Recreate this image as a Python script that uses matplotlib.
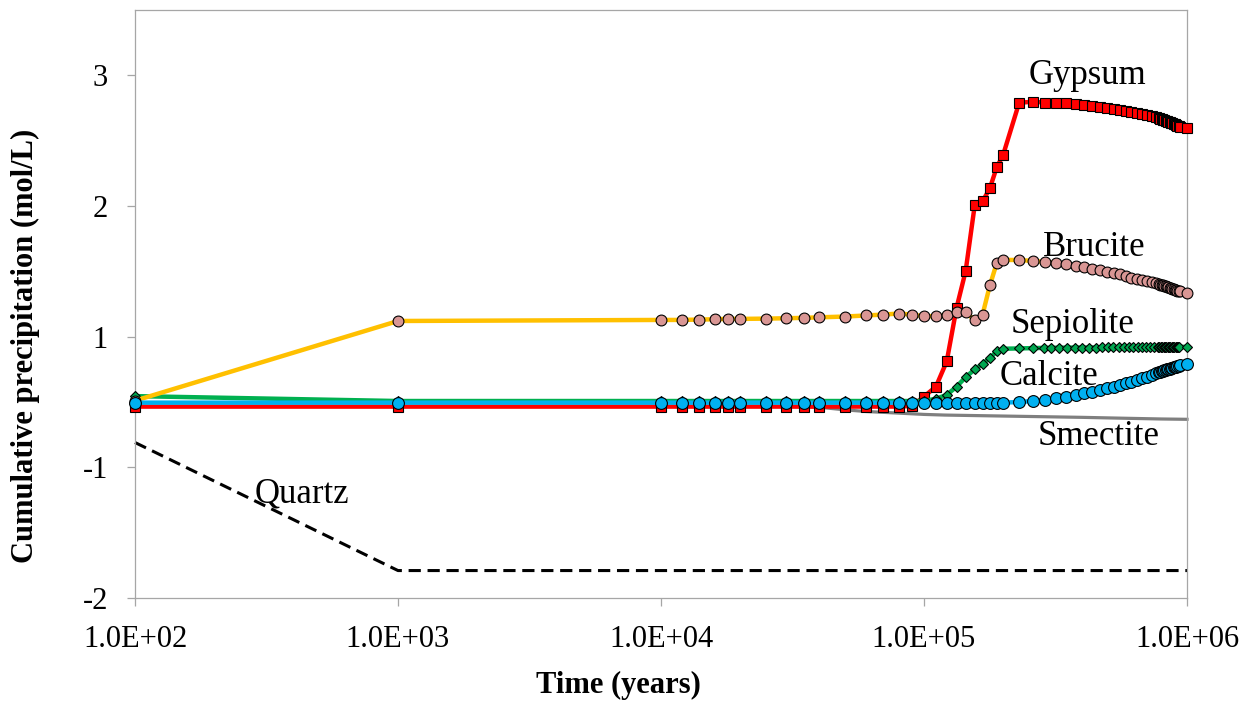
import numpy as np
import matplotlib
matplotlib.use("Agg")
from matplotlib import pyplot as plt
from matplotlib.ticker import FixedLocator, FuncFormatter, NullLocator

plt.rcParams['font.family'] = ['Liberation Serif', 'DejaVu Serif']

# time steps (years) shared by gypsum, brucite and calcite
t_main = [1e2, 1e3,
          1.0e4, 1.2e4, 1.4e4, 1.6e4, 1.8e4, 2.0e4, 2.5e4, 3.0e4, 3.5e4, 4.0e4,
          5.0e4, 6.0e4, 7.0e4, 8.0e4, 9.0e4,
          1.00e5, 1.11e5, 1.22e5, 1.33e5, 1.44e5, 1.56e5, 1.67e5, 1.78e5, 1.89e5,
          2.00e5, 2.30e5, 2.59e5, 2.89e5, 3.19e5, 3.48e5, 3.78e5, 4.07e5, 4.37e5,
          4.67e5, 4.96e5, 5.26e5, 5.56e5, 5.85e5, 6.15e5, 6.44e5, 6.74e5, 7.04e5,
          7.33e5, 7.63e5,
          7.8e5, 7.9e5, 8.0e5, 8.1e5, 8.2e5, 8.3e5, 8.4e5, 8.5e5, 8.6e5, 8.7e5,
          8.8e5, 8.9e5, 9.0e5, 9.1e5, 9.2e5, 9.3e5, 9.4e5,
          1.0e6]

gypsum = [-0.07, -0.07,
          -0.07, -0.07, -0.07, -0.07, -0.07, -0.07, -0.07, -0.07, -0.07, -0.07,
          -0.07, -0.07, -0.07, -0.07, -0.06,
          0.082, 0.235, 0.62, 1.221, 1.502, 2.01, 2.036, 2.136, 2.295,
          2.392, 2.79, 2.798, 2.792, 2.79, 2.785, 2.779, 2.772, 2.764,
          2.756, 2.748, 2.744, 2.733, 2.728, 2.721, 2.713, 2.705, 2.695,
          2.687, 2.679,
          2.672, 2.668, 2.664, 2.660, 2.656, 2.652, 2.648, 2.644, 2.640, 2.636,
          2.632, 2.628, 2.624, 2.620, 2.616, 2.612, 2.608,
          2.598]

brucite = [0.02, 1.12,
           1.128, 1.128, 1.131, 1.133, 1.136, 1.136, 1.138, 1.141, 1.144, 1.148,
           1.154, 1.162, 1.169, 1.177, 1.169,
           1.156, 1.156, 1.162, 1.187, 1.187, 1.125, 1.169, 1.392, 1.562,
           1.587, 1.587, 1.579, 1.572, 1.562, 1.554, 1.541, 1.531, 1.515,
           1.508, 1.498, 1.490, 1.477, 1.464, 1.452, 1.444, 1.433, 1.425,
           1.418, 1.408,
           1.404, 1.399, 1.395, 1.392, 1.388, 1.385, 1.381, 1.378, 1.374, 1.371,
           1.367, 1.364, 1.360, 1.357, 1.353, 1.350, 1.347,
           1.336]

calcite = [-0.01, -0.01,
           -0.01, -0.01, -0.01, -0.01, -0.01, -0.01, -0.01, -0.01, -0.01, -0.01,
           -0.01, -0.01, -0.01, -0.01, -0.01,
           -0.01, -0.01, -0.01, -0.01, -0.01, -0.01, -0.01, -0.01, -0.01,
           -0.01, 0.0, 0.015, 0.031, 0.057, 0.082, 0.108, 0.134, 0.158,
           0.185, 0.211, 0.235, 0.262, 0.288, 0.312, 0.338, 0.365, 0.389,
           0.415, 0.44,
           0.454, 0.462, 0.469, 0.477, 0.485, 0.492, 0.498, 0.505, 0.511, 0.517,
           0.523, 0.529, 0.535, 0.542, 0.548, 0.554, 0.56,
           0.58]

# sepiolite has its own output times
t_sep = [1e2, 1e3,
         1.0e4, 1.2e4, 1.4e4, 1.6e4, 1.8e4, 2.0e4, 2.5e4, 3.0e4, 3.5e4, 4.0e4,
         5.0e4, 6.0e4, 7.0e4, 8.0e4, 9.0e4,
         1.00e5, 1.11e5, 1.22e5, 1.33e5, 1.44e5, 1.56e5, 1.67e5, 1.78e5, 1.89e5,
         2.00e5, 2.30e5, 2.60e5, 2.85e5, 3.05e5, 3.27e5, 3.50e5, 3.75e5, 4.00e5,
         4.25e5, 4.50e5, 4.75e5, 5.00e5, 5.25e5, 5.50e5, 5.75e5, 6.00e5, 6.25e5,
         6.50e5, 6.75e5, 7.00e5, 7.25e5, 7.50e5, 7.75e5,
         7.85e5, 7.95e5, 8.05e5, 8.15e5, 8.25e5, 8.35e5, 8.45e5, 8.55e5, 8.65e5,
         8.75e5, 8.85e5, 8.95e5, 9.05e5, 9.15e5, 9.25e5, 9.35e5,
         1.0e6]

sepiolite = [0.09, 0.015,
             0.015, 0.015, 0.015, 0.015, 0.015, 0.015, 0.015, 0.015, 0.015, 0.015,
             0.015, 0.015, 0.015, 0.015, 0.015,
             0.015, 0.05, 0.108, 0.235, 0.38, 0.50, 0.585, 0.672, 0.774,
             0.815, 0.82, 0.825, 0.828, 0.83, 0.831, 0.832, 0.833, 0.833,
             0.834, 0.834, 0.835, 0.835, 0.835, 0.836, 0.836, 0.836, 0.837,
             0.837, 0.837, 0.838, 0.838, 0.838, 0.839,
             0.839, 0.839, 0.840, 0.840, 0.840, 0.841, 0.841, 0.841, 0.842,
             0.842, 0.842, 0.843, 0.843, 0.843, 0.844, 0.844,
             0.845]

t_smec = [1e2, 1e3, 1e4, 3e4, 4e4, 5e4, 6e4, 8e4, 1e5, 1.2e5, 2e5, 4e5, 6e5, 8e5, 1e6]
smectite = [-0.07, -0.07, -0.07, -0.07, -0.08, -0.12, -0.145, -0.17, -0.19,
            -0.20, -0.215, -0.235, -0.25, -0.26, -0.265]

t_qtz = [1e2, 1e3, 1e4, 1e5, 1e6]
quartz = [-0.62, -1.79, -1.79, -1.79, -1.79]

x_ticks = [1e2, 1e3, 1e4, 1e5, 1e6]
y_ticks = [-2, -1, 1, 2, 3]
y_ticklabels = ['-2', '-1', '1', '2', '3']


# y axis: the band between -1 and 1 takes one tick spacing, outside it is linear
def fwd(v):
    v = np.asarray(v, dtype=float)
    return np.where(np.abs(v) < 1, 0.5 * v, v - 0.5 * np.sign(v))


def inv(f):
    f = np.asarray(f, dtype=float)
    return np.where(np.abs(f) < 0.5, 2.0 * f, f + 0.5 * np.sign(f))


fig = plt.figure(figsize=(12.59, 7.04), dpi=100)
ax = fig.add_axes([135 / 1259, 1 - 598 / 704, 1052 / 1259, 588 / 704])

ax.set_xscale('log')
ax.set_yscale('function', functions=(fwd, inv))
ax.set_xlim(1e2, 1e6)
ax.set_ylim(-2, 3.5)

mk = dict(markeredgecolor='black', markeredgewidth=0.8, clip_on=False)

ax.plot(t_qtz, quartz, color='black', lw=2.2, ls=(0, (4, 2.2)), clip_on=False, zorder=2)
ax.plot(t_smec, smectite, color='#7F7F7F', lw=2.3, clip_on=False, zorder=2)
ax.plot(t_main, gypsum, color='#FF0000', lw=3.2, marker='s', ms=7.4,
        markerfacecolor='#FF0000', zorder=3, **mk)
ax.plot(t_sep, sepiolite, color='#00B050', lw=3.2, marker='D', ms=5.4,
        markerfacecolor='#00A650', zorder=4, **mk)
ax.plot(t_main, brucite, color='#FFC000', lw=3.2, marker='o', ms=7.8,
        markerfacecolor='#D99694', zorder=5, **mk)
ax.plot(t_main, calcite, color='#00B0F0', lw=3.2, marker='o', ms=8.5,
        markerfacecolor='#00B0F0', zorder=6, **mk)

# mineral names next to the curves
lbl = dict(transform=ax.transAxes, fontsize=25, ha='left', va='baseline', zorder=7)
ax.text(0.849, 0.874, 'Gypsum', **lbl)
ax.text(0.863, 0.582, 'Brucite', **lbl)
ax.text(0.832, 0.451, 'Sepiolite', **lbl)
ax.text(0.822, 0.363, 'Calcite', **lbl)
ax.text(0.858, 0.260, 'Smectite', **lbl)
ax.text(0.114, 0.163, 'Quartz', **lbl)

ax.xaxis.set_major_locator(FixedLocator(x_ticks))
ax.xaxis.set_major_formatter(FuncFormatter(lambda x, pos: '%.1E' % x))
ax.xaxis.set_minor_locator(NullLocator())
ax.set_yticks(y_ticks)
ax.set_yticklabels(y_ticklabels)
ax.yaxis.set_minor_locator(NullLocator())

for side in ['left', 'right', 'top', 'bottom']:
    ax.spines[side].set_color('#A6A6A6')
    ax.spines[side].set_linewidth(0.9)
ax.tick_params(axis='both', direction='out', length=6, width=0.9, color='#A6A6A6',
               labelsize=22, pad=13.5)

fig.text(25 / 1259, 0.508, 'Cumulative precipitation (mol/L)', rotation=90,
         fontsize=22, fontweight='bold', ha='center', va='center')
fig.text(618 / 1259, 1 - 685 / 704, 'Time (years)', fontsize=22, fontweight='bold',
         ha='center', va='center')

fig.savefig('out.png', dpi=100)
